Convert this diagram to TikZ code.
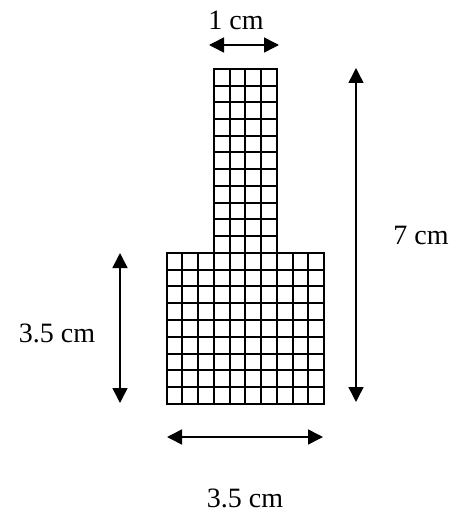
\documentclass[tikz,border=0pt]{standalone}
\usepackage{fontspec}
\setmainfont{Liberation Serif}
\usetikzlibrary{arrows.meta}
\begin{document}
\begin{tikzpicture}[x=1pt,y=-1pt,
  gridline/.style={line width=2pt,line cap=rect},
  dim/.style={line width=1.5pt,{Triangle[length=15pt,width=15pt]}-{Triangle[length=15pt,width=15pt]}},
  lbl/.style={font=\fontsize{28}{30}\selectfont,inner sep=0pt}]
\useasboundingbox (0,0) rectangle (457,516);
% wide part: 10 columns x 9 rows
\foreach \i in {0,...,10}
  \draw[gridline] ({round(166.7+\i*15.73)},253) -- ({round(166.7+\i*15.73)},404);
\foreach \j in {0,...,9}
  \draw[gridline] (167,{round(252.7+\j*16.81)}) -- (324,{round(252.7+\j*16.81)});
% narrow part: 4 columns x 11 rows
\foreach \i in {0,...,4}
  \draw[gridline] ({round(213.9+\i*15.73)},69) -- ({round(213.9+\i*15.73)},253);
\foreach \j in {0,...,10}
  \draw[gridline] (214,{round(69+\j*16.7)}) -- (277,{round(69+\j*16.7)});
% dimension end points
\coordinate (t1) at (209,45);
\coordinate (t2) at (279,45);
\coordinate (r1) at (356,68);
\coordinate (r2) at (356,402);
\coordinate (l1) at (120,253);
\coordinate (l2) at (120,403);
\coordinate (b1) at (167,437);
\coordinate (b2) at (323,437);
\draw[dim] (t1) -- (t2);
\draw[dim] (r1) -- (r2);
\draw[dim] (l1) -- (l2);
\draw[dim] (b1) -- (b2);
% labels
\node[lbl] (ltop) at (236,20) {1 cm};
\node[lbl] (lright) at (421,235) {7 cm};
\node[lbl] (lleft) at (57,333) {3.5 cm};
\node[lbl] (lbottom) at (245,498) {3.5 cm};
\end{tikzpicture}
\end{document}
